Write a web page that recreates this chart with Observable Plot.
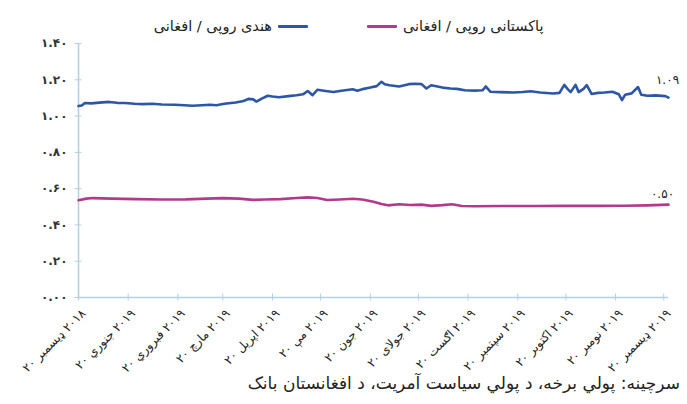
<!DOCTYPE html>
<html>
<head>
<meta charset="utf-8">
<script src="https://cdn.jsdelivr.net/npm/d3@7"></script>
<script src="https://cdn.jsdelivr.net/npm/@observablehq/plot@0.6"></script>
<style>
  body { margin: 0; background: #fff; font-family: "DejaVu Sans", sans-serif; }
  #wrap { position: relative; width: 687px; height: 404px; overflow: hidden; background: #fff; }
  .item { position: absolute; top: 14px; display: flex; align-items: center; gap: 6px; height: 24px; }
  .lt { direction: rtl; font-size: 14.5px; color: #222; white-space: nowrap; }
  .sw { display: inline-block; width: 30px; height: 3px; border-radius: 1px; }
  #caption { position: absolute; right: 7px; top: 373px; direction: rtl; font-size: 17px; color: #222; white-space: nowrap; }
  #chart { position: absolute; left: 0; top: 0; }
</style>
</head>
<body>
<div id="wrap">
  <div id="chart"></div>
  <div class="item" id="leg0" style="right:379px"></div>
  <div class="item" id="leg1" style="left:367px"></div>
  <div id="caption"></div>
</div>
<script>
// ---- data ----
const seriesNames = ["هندی روپی / افغانی", "پاکستانی روپی / افغانی"];
const seriesColors = ["#2d56a6", "#b3398f"];
const sourceText = "سرچینه: پولي برخه، د پولي سیاست آمریت، د افغانستان بانک";

const inrDates = [
  "2018-12-20","2018-12-22","2018-12-24","2018-12-28","2019-01-02","2019-01-08","2019-01-13","2019-01-18",
  "2019-01-24","2019-01-29","2019-02-04","2019-02-10","2019-02-18","2019-02-24","2019-03-01","2019-03-07",
  "2019-03-12","2019-03-16","2019-03-21","2019-03-28","2019-04-02","2019-04-05","2019-04-08","2019-04-10",
  "2019-04-13","2019-04-17","2019-04-20","2019-04-24","2019-04-30","2019-05-05","2019-05-09","2019-05-12",
  "2019-05-15","2019-05-18","2019-05-22","2019-05-28","2019-06-02","2019-06-09","2019-06-12","2019-06-16",
  "2019-06-20","2019-06-24","2019-06-27","2019-06-29","2019-07-02","2019-07-08","2019-07-14","2019-07-18",
  "2019-07-22","2019-07-25","2019-07-28","2019-08-04","2019-08-09","2019-08-13","2019-08-18","2019-08-24",
  "2019-08-29","2019-08-31","2019-09-03","2019-09-09","2019-09-17","2019-09-23","2019-09-28","2019-10-04",
  "2019-10-12","2019-10-16","2019-10-19","2019-10-21","2019-10-23","2019-10-26","2019-10-28","2019-10-31",
  "2019-11-02","2019-11-05","2019-11-09","2019-11-13","2019-11-18","2019-11-22","2019-11-24","2019-11-26",
  "2019-11-30","2019-12-04","2019-12-06","2019-12-10","2019-12-15","2019-12-21","2019-12-23"
];
const inrValues = [
  1.055,1.058,1.072,1.070,1.074,1.078,1.073,1.072,
  1.068,1.066,1.068,1.064,1.062,1.060,1.057,1.060,
  1.062,1.060,1.068,1.075,1.083,1.095,1.092,1.080,
  1.095,1.112,1.108,1.104,1.110,1.115,1.120,1.138,
  1.115,1.145,1.140,1.133,1.140,1.148,1.140,1.150,
  1.157,1.165,1.189,1.175,1.170,1.163,1.176,1.178,
  1.176,1.152,1.170,1.157,1.152,1.150,1.142,1.140,
  1.142,1.163,1.134,1.132,1.130,1.133,1.137,1.130,
  1.124,1.128,1.172,1.150,1.132,1.172,1.132,1.150,
  1.170,1.122,1.128,1.130,1.134,1.120,1.088,1.118,
  1.125,1.160,1.118,1.112,1.114,1.110,1.102
];

const pkrDates = [
  "2018-12-20","2018-12-25","2018-12-29","2019-01-10","2019-01-25","2019-02-10","2019-02-25","2019-03-10",
  "2019-03-20","2019-03-30","2019-04-08","2019-04-15","2019-04-25","2019-05-05","2019-05-12","2019-05-18",
  "2019-05-24","2019-06-01","2019-06-09","2019-06-15","2019-06-22","2019-06-27","2019-07-01","2019-07-08",
  "2019-07-15","2019-07-22","2019-07-28","2019-08-04","2019-08-10","2019-08-16","2019-08-24","2019-09-10",
  "2019-10-01","2019-10-20","2019-11-10","2019-11-25","2019-12-10","2019-12-23"
];
const pkrValues = [
  0.536,0.545,0.548,0.545,0.542,0.540,0.541,0.545,
  0.548,0.545,0.538,0.540,0.542,0.548,0.552,0.548,
  0.537,0.540,0.544,0.540,0.528,0.515,0.508,0.514,
  0.510,0.512,0.505,0.509,0.514,0.504,0.503,0.504,
  0.504,0.505,0.505,0.506,0.508,0.512
];

const endLabels = ["۱.۰۹", "۰.۵۰"];

const tickDates = [
  "2018-12-20","2019-01-20","2019-02-20","2019-03-20","2019-04-20","2019-05-20","2019-06-20",
  "2019-07-20","2019-08-20","2019-09-20","2019-10-20","2019-11-20","2019-12-20"
];
const tickMonths = ["ډیسمبر","جنوري","فبروري","مارچ","اپریل","مې","جون","جولای","اګست","سپتمبر","اکتوبر","نومبر","ډیسمبر"];
const tickYears = ["۲۰۱۸","۲۰۱۹","۲۰۱۹","۲۰۱۹","۲۰۱۹","۲۰۱۹","۲۰۱۹","۲۰۱۹","۲۰۱۹","۲۰۱۹","۲۰۱۹","۲۰۱۹","۲۰۱۹"];
const tickDay = "۲۰";
const yTicks = [0, 0.2, 0.4, 0.6, 0.8, 1.0, 1.2, 1.4];
const xDomain = ["2018-12-20", "2019-12-23"];

// ---- build ----
const parse = s => new Date(s + "T00:00:00Z");
const inr = inrDates.map((d, i) => ({date: parse(d), value: inrValues[i]}));
const pkr = pkrDates.map((d, i) => ({date: parse(d), value: pkrValues[i]}));
const ticks = tickDates.map(parse);
const fa = s => String(s).replace(/[0-9]/g, c => "۰۱۲۳۴۵۶۷۸۹"[+c]);
const xLabel = d => {
  const i = ticks.findIndex(t => +t === +d);
  return i < 0 ? "" : "\u2067" + tickYears[i] + " " + tickMonths[i] + " " + tickDay + "\u2069";
};
const axisColor = "#b5cfe4";

const chart = Plot.plot({
  width: 687,
  height: 370,
  marginTop: 43,
  marginBottom: 73,
  marginLeft: 78,
  marginRight: 19,
  x: {type: "utc", domain: xDomain.map(parse), label: null},
  y: {domain: [0, 1.4], label: null},
  style: {fontFamily: "DejaVu Sans, sans-serif", background: "transparent", overflow: "visible", color: "#222"},
  marks: [
    Plot.ruleX([parse(xDomain[0])], {stroke: axisColor, strokeWidth: 1.6}),
    Plot.ruleY([0], {stroke: axisColor, strokeWidth: 1.6}),
    Plot.axisY({ticks: yTicks, tickSize: 7, dx: 3.5, tickFormat: () => "", stroke: axisColor, label: null}),
    Plot.axisY({ticks: yTicks, tickSize: 0, tickPadding: 11, tickFormat: d => fa(d.toFixed(2)), fontSize: 12, fontWeight: "bold", fill: "#333", label: null}),
    Plot.axisX({ticks: ticks, tickSize: 7, dy: -3.5, tickFormat: () => "", stroke: axisColor, label: null}),
    Plot.axisX({ticks: ticks, tickSize: 0, tickPadding: 14, dx: 5, tickRotate: -45, tickFormat: xLabel, fontSize: 12, fill: "#222", label: null}),
    Plot.line(inr, {x: "date", y: "value", stroke: seriesColors[0], strokeWidth: 2.6, curve: "linear"}),
    Plot.line(pkr, {x: "date", y: "value", stroke: seriesColors[1], strokeWidth: 2.6, curve: "linear"}),
    Plot.text([inr[inr.length - 1]], {x: "date", y: "value", text: () => endLabels[0], dy: -17, dx: -1, fontSize: 12, fill: "#222"}),
    Plot.text([pkr[pkr.length - 1]], {x: "date", y: "value", text: () => endLabels[1], dy: -10, dx: -6, fontSize: 12, fill: "#222"})
  ]
});
document.getElementById("chart").appendChild(chart);

// legend
const l0 = document.getElementById("leg0");
l0.innerHTML = `<span class="lt">${seriesNames[0]}</span><span class="sw" style="background:${seriesColors[0]}"></span>`;
const l1 = document.getElementById("leg1");
l1.innerHTML = `<span class="sw" style="background:${seriesColors[1]}"></span><span class="lt">${seriesNames[1]}</span>`;
document.getElementById("caption").textContent = sourceText;
</script>
</body>
</html>
